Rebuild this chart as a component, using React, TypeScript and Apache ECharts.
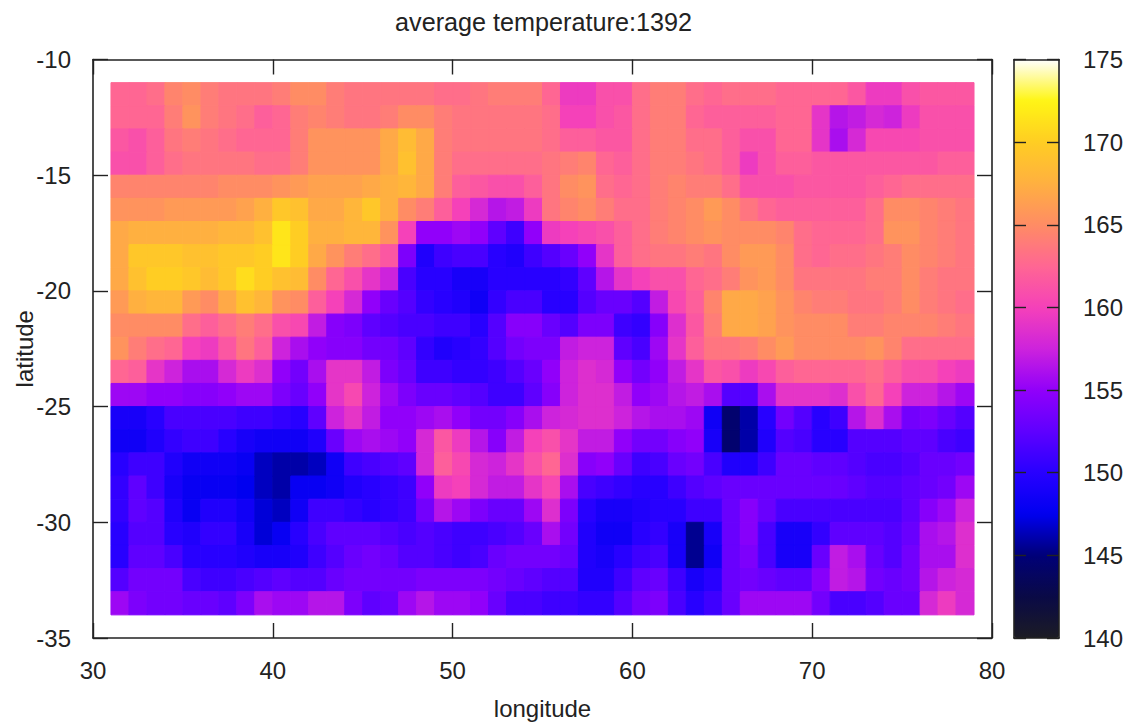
import React, { useEffect, useRef } from "react";
import * as echarts from "echarts";

const titleText = "average temperature:1392";
const xName = "longitude";
const yName = "latitude";
const longitudes = Array.from({ length: 48 }, (_, i) => 31 + i);
const latitudes = Array.from({ length: 23 }, (_, i) => -11 - i);
const paletteStops = [
  "#1c1c24", "#0a0a46", "#000078", "#0000f0", "#2800ff", "#5f00ff", "#9100fa", "#cd23dc",
  "#f541b9", "#ff6693", "#ff8c64", "#ffb040", "#ffcd23", "#fff514", "#ffffff",
];
const temperatureRows = [
  [162.5,162.5,163,164.5,165,164,163.5,163.5,163.5,164,165,165,164,163.5,163.5,163.5,163.5,163.5,163,163,163.5,164,164,164,162.5,159.5,159.5,161,161,163,164,164,163,162.5,163,163,163,162.5,162.5,162.5,162.5,161.5,159.5,159.5,161,161.5,161.5,161.5],
  [162.5,162.5,162.5,164,165.5,164,163.5,163,162,162.5,164,164.5,164,163.5,163.5,164,165,165,164,163.5,163.5,163.5,163.5,163.5,163,160,160,161,161.5,163,164,164,162.5,162,162,162,162,162.5,162.5,159,156.5,157,158,157.5,159.5,161,161,161],
  [161.5,161,162,163.5,164,163.5,163,162.5,162.5,162.5,164,165.5,165.5,165.5,165.5,167,168.5,167,164,163.5,163.5,163.5,163.5,163.5,163,162,162,161.5,161.5,163,164,164,163,163,162,161,161,162.5,162.5,159,156,158,160.5,160.5,160.5,161,161,161],
  [161,161,162,163,163.5,163.5,163.5,163.5,163,163,164,165.5,165.5,165.5,165.5,167,169,167,164,163,163,163,163,163,163.5,164,164.5,162.5,162,163,164,164,163.5,163,162,159.5,161,162,162,161.5,161.5,161.5,161.5,161.5,161.5,161.5,162,162],
  [164.5,164.5,164.5,164.5,164.5,164.5,165,165,165,165.5,166,166.5,166.5,166.5,167,167.5,168,167,164,162,161.5,161,161,162,163.5,165,165.5,163,162.5,163,164,164.5,164,164,163,161,161,161,161.5,161.5,161.5,161.5,162,162.5,163,163,163,163],
  [165.5,165.5,165.5,166,166,166,166,166.5,167.5,169.5,169,167,167,168,169.5,167.5,165,164,162,160,158,156.5,157,159.5,163.5,164.5,165,164,163,163,164,164.5,165,166,165,163.5,162.5,162,162,162,162,162,163,165,165,164.5,164,163.5],
  [167,167.5,167.5,167.5,167.5,167.5,168,168,169,171.5,170,167.5,167.5,168,168,165.5,160,155,155,155.5,155,152.5,151,155,159.5,160,160.5,161,162,163,164,164.5,165,165.5,165,165,165,164.5,163,162.5,162.5,162.5,163,165.5,165.5,164.5,164,163.5],
  [167,169.5,169.5,169.5,169,169,169.5,169.5,170,171.5,170,167,165.5,164,163,161.5,154,149.5,151,151.5,151.5,150,149.5,151,152,153,155,159,162,163,163.5,163.5,164,163.5,165,166,166,165,163,162.5,163,163,163.5,164,165,164.5,164,163.5],
  [167,169,170,170,169.5,168.5,169.5,171,170,169,168.5,165,162.5,161,159,157.5,151.5,150,150,149,149,150,150,150,150,150.5,152.5,156.5,159,160,161,161,162.5,163,164,165.5,166,165,163.5,163.5,163.5,163.5,164,164,165,164,163.5,163.5],
  [166,167.5,168,168,166,165,167,169,168,165.5,165,162,160,158,155,153,152,150.5,150,149.5,148.5,150.5,151.5,151.5,150,150,152,153,153,152,157,160.5,162,164.5,167,167,166.5,165.5,164.5,164,164,163.5,163.5,164,165,164,163.5,163],
  [165,165,165,165,163,162,163,164,163,161,160.5,157,154.5,154,152.5,152,151.5,151.5,151,151,150,152,154.5,154.5,153,152,154,154,151,150.5,154.5,158.5,161.5,164,167,167,166.5,165.5,165,165,165,164,164,164.5,164.5,164.5,164,163.5],
  [165.5,164,163,162.5,160,159.5,161.5,163.5,162,157.5,156,155,154.5,154.5,153.5,153.5,152.5,150.5,149.5,150,150.5,152,153.5,154,154,157,157.5,157.5,152.5,151.5,155.5,159,162,163.5,163.5,164,165,166,165,165,165,165,165.5,164.5,163,163,163,163],
  [162.5,162,159,157.5,156,156,158,159.5,158.5,155,153.5,156,159,159,157,154,153,151,151,150.5,150.5,151,152,153,155,157.5,158.5,158,155,153.5,155,157,159,161.5,161,159.5,160.5,162,162.5,162.5,162.5,162.5,163,162,161,161,160,159.5],
  [155.5,155.5,155,155,154.5,154.5,155,155.5,155.5,154,153,155,159,160.5,157.5,155.5,154,153,153,152.5,152,151,151,152.5,154.5,157.5,158.5,158.5,157,155,155.5,156.5,157,156,152,152,156,159,159,159,158.5,161,162.5,160,157.5,157.5,156.5,155.5],
  [149,149,150,151.5,151.5,151.5,151.5,151,151,150.5,150,152.5,157.5,159,157,155,155,155.5,156,155,153.5,153.5,154.5,156,157.5,158,158.5,158.5,157.5,156.5,156,156,155.5,148.5,144.5,146,150,153.5,152,150,151,156.5,158.5,156,153.5,154,153,152],
  [148.5,148.5,149.5,150.5,151,151,150,149,148.5,148.5,148.5,149.5,153,155.5,156,155.5,155,158,161.5,159.5,156.5,154.5,157,160,161,159,157,157,155,153.5,153.5,154.5,155,149,144.5,146,149.5,152,151.5,150,150,152,152,152,152.5,152.5,151.5,151],
  [150,151,151,149.5,148.5,148.5,148.5,148,146.5,146,146,146.5,148.5,151,151.5,152,152.5,158,162,160.5,158,157.5,159,161,162.5,158.5,154.5,155,153,151,151.5,153,153.5,151.5,149.5,149.5,151,153,153,152.5,152.5,152,151.5,151.5,152,153,153,153.5],
  [150.5,152.5,151,149,148,148,148,147.5,146.5,146,148,148,148.5,149.5,150,150.5,151,155,159.5,160,158,157,157,159,160.5,156,151.5,151,150.5,150,150,151,152,152.5,153,153,153,153,153,153,153,152.5,152,152,152.5,153,153.5,155.5],
  [150.5,152.5,152,149.5,148,149.5,149.5,148.5,147,146.5,148.5,151,151,150.5,150,150.5,151,153.5,156.5,155.5,154,153,153,155.5,158.5,154,150,149,149,149.5,150,150,151,151,153,154.5,153,151.5,151.5,151.5,151.5,151.5,151.5,151.5,152.5,154.5,155.5,157.5],
  [150,152,152,150,149.5,150.5,150.5,149,147,148,150,151.5,152.5,152.5,152.5,152,151.5,152,151.5,151,151,151.5,152,153,156,153.5,149.5,148.5,148.5,150,150.5,149,145.5,149,153,154.5,151.5,149,149,150.5,152.5,152.5,152.5,152,153,156,156.5,158.5],
  [150,152.5,152.5,151.5,150,150,150,149.5,149,149,149.5,151,152,153,153.5,153,152,152,151.5,151,151.5,153,153.5,153.5,153.5,153,149.5,149,150,151,151.5,149,145.5,148.5,153,154,151.5,149,149,153,157,156,153,152,153.5,156,156,158.5],
  [152,153.5,153.5,153.5,151.5,151,151,151.5,152,152.5,152,152,153,153.5,153.5,153.5,153.5,154,154,154,154,153.5,153,152.5,152,152,149.5,149.5,151,152.5,153,151,149,150,153,153.5,153,152.5,152.5,154.5,157,156.5,153.5,153,153.5,156.5,157.5,158],
  [155.5,154,153.5,153.5,153,153,152.5,154,156,155.5,155.5,156.5,156.5,154,152.5,153,155.5,156.5,155.5,155.5,155,153,151.5,151.5,151,151,150.5,150.5,152,153.5,154,151.5,150,151,153,155.5,155.5,155.5,155.5,153.5,151.5,151.5,152,153,153,158,159.5,158],
];

const lineColor = "#222";
const fontFamily = "'Liberation Sans', Arial, sans-serif";
const labelStyle = { color: "#222", fontSize: 24, fontFamily };

export default function App() {
  const ref = useRef<HTMLDivElement>(null);
  useEffect(() => {
    document.body.style.margin = "0";
    const chart = echarts.init(ref.current!, null, { renderer: "svg" });
    const cells: number[][] = [];
    temperatureRows.forEach((row, r) =>
      row.forEach((v, c) => cells.push([longitudes[c], latitudes[r], v]))
    );
    const frameLine = { show: true, onZero: false, lineStyle: { color: lineColor, width: 1.6 } };
    const tick = (len: number) => ({
      show: true,
      inside: true,
      length: len,
      lineStyle: { color: lineColor, width: 1.4 },
    });
    chart.setOption({
      animation: false,
      backgroundColor: "#fff",
      title: {
        text: titleText,
        left: 538.5,
        top: 4,
        textAlign: "center",
        textStyle: { color: "#222", fontSize: 25.2, fontWeight: "normal", fontFamily },
      },
      grid: [
        { left: 93, top: 59.5, width: 899, height: 578.5, outerBoundsMode: "none" },
        { left: 1014, top: 59.5, width: 45, height: 578.5, outerBoundsMode: "none" },
      ],
      xAxis: [
        {
          type: "value", gridIndex: 0, position: "bottom", min: 30, max: 80, interval: 10,
          name: xName, nameLocation: "middle", nameGap: 58, nameMoveOverlap: false,
          nameTextStyle: labelStyle,
          axisLine: frameLine, axisTick: tick(15), splitLine: { show: false },
          axisLabel: { ...labelStyle, margin: 20 },
        },
        {
          type: "value", gridIndex: 0, position: "top", min: 30, max: 80, interval: 10,
          axisLine: frameLine, axisTick: tick(15), splitLine: { show: false },
          axisLabel: { show: false },
        },
        {
          type: "value", gridIndex: 1, position: "bottom", min: 0, max: 1, z: 10,
          axisLine: frameLine, axisTick: { show: false }, splitLine: { show: false },
          axisLabel: { show: false },
        },
        {
          type: "value", gridIndex: 1, position: "top", min: 0, max: 1, z: 10,
          axisLine: frameLine, axisTick: { show: false }, splitLine: { show: false },
          axisLabel: { show: false },
        },
      ],
      yAxis: [
        {
          type: "value", gridIndex: 0, position: "left", min: -35, max: -10, interval: 5,
          name: yName, nameLocation: "middle", nameGap: 57, nameRotate: 90, nameMoveOverlap: false,
          nameTextStyle: labelStyle,
          axisLine: frameLine, axisTick: tick(15), splitLine: { show: false },
          axisLabel: { ...labelStyle, margin: 22 },
        },
        {
          type: "value", gridIndex: 0, position: "right", min: -35, max: -10, interval: 5,
          axisLine: frameLine, axisTick: tick(15), splitLine: { show: false },
          axisLabel: { show: false },
        },
        {
          type: "value", gridIndex: 1, position: "left", min: 140, max: 175, interval: 5, z: 10,
          axisLine: frameLine, axisTick: tick(12), splitLine: { show: false },
          axisLabel: { show: false },
        },
        {
          type: "value", gridIndex: 1, position: "right", min: 140, max: 175, interval: 5, z: 10,
          axisLine: frameLine, axisTick: tick(12), splitLine: { show: false },
          axisLabel: { ...labelStyle, margin: 24 },
        },
      ],
      visualMap: {
        type: "continuous",
        min: 140,
        max: 175,
        dimension: 2,
        seriesIndex: 0,
        left: 1014,
        top: 59.5,
        padding: 0,
        itemWidth: 45,
        itemHeight: 578.5,
        calculable: false,
        hoverLink: false,
        showLabel: false,
        text: null,
        inRange: { color: paletteStops },
      },
      series: [
        {
          type: "custom",
          xAxisIndex: 0,
          yAxisIndex: 0,
          data: cells,
          encode: { x: 0, y: 1 },
          renderItem: (_: any, api: any) => {
            const lon = api.value(0);
            const lat = api.value(1);
            const a = api.coord([lon, lat]);
            const b = api.coord([lon + 1, lat - 1]);
            const fill = api.visual("color");
            return {
              type: "rect",
              shape: { x: a[0], y: a[1], width: b[0] - a[0], height: b[1] - a[1] },
              style: { fill, stroke: fill, lineWidth: 1 },
            };
          },
        },
      ],
    });
    return () => chart.dispose();
  }, []);
  return <div ref={ref} style={{ position: "fixed", left: 0, top: 0, width: 1132, height: 726 }} />;
}
